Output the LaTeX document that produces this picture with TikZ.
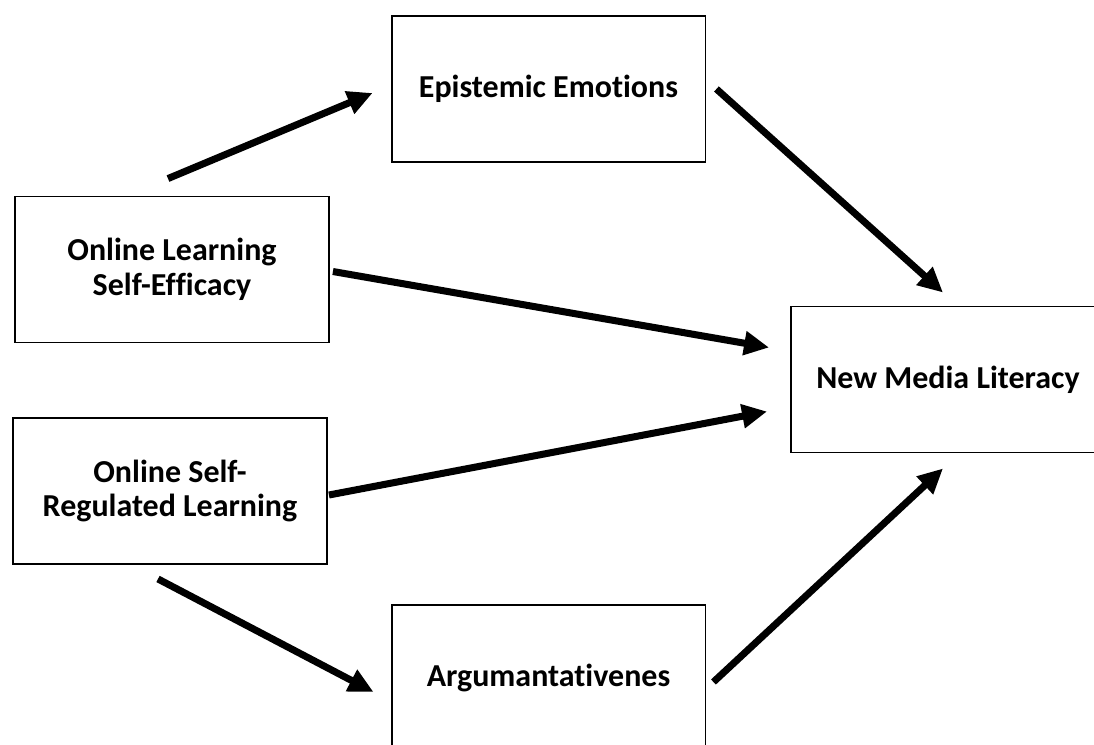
\documentclass[tikz,border=0pt]{standalone}
\usepackage{fontspec}
\setmainfont[Ligatures=NoCommon]{Carlito}
\usepackage{tikz}
\usetikzlibrary{arrows.meta}

\begin{document}
\begin{tikzpicture}[x=0.02cm, y=-0.02cm,
    varbox/.style={draw, line width=1.1pt, minimum width=6.28cm, minimum height=2.92cm,
                   align=center, font=\bfseries\fontsize{18.2}{19.8}\selectfont},
    path/.style={line width=4pt, -{Triangle[length=0.5cm, width=0.46cm]}}]
    \clip (0,0) rectangle (1094,744);

    \node[varbox] (EE)   at (548.5, 89)   {Epistemic Emotions};
    \node[varbox] (OL)   at (172, 269.5)  {Online Learning\\Self-Efficacy};
    \node[varbox] (OSRL) at (170, 491)    {Online Self-\\Regulated Learning};
    \node[varbox] (NML)  at (948, 379.5)  {New Media Literacy};
    \node[varbox] (AR)   at (548.5, 678)  {Argumantativenes};

    \draw[path] ([shift={(-4,-17)}]OL.north) -- ([shift={(-18,4)}]EE.west);
    \draw[path] ([shift={(10,0)}]EE.east)    -- ([shift={(-5,-13)}]NML.north);
    \draw[path] ([shift={(3,2)}]OL.east)     -- ([shift={(-21,-32)}]NML.west);
    \draw[path] ([shift={(1,4)}]OSRL.east)   -- ([shift={(-23,32)}]NML.west);
    \draw[path] ([shift={(-12,14)}]OSRL.south) -- ([shift={(-17,14)}]AR.west);
    \draw[path] ([shift={(7,4)}]AR.east)     -- ([shift={(-5,15)}]NML.south);
\end{tikzpicture}
\end{document}
